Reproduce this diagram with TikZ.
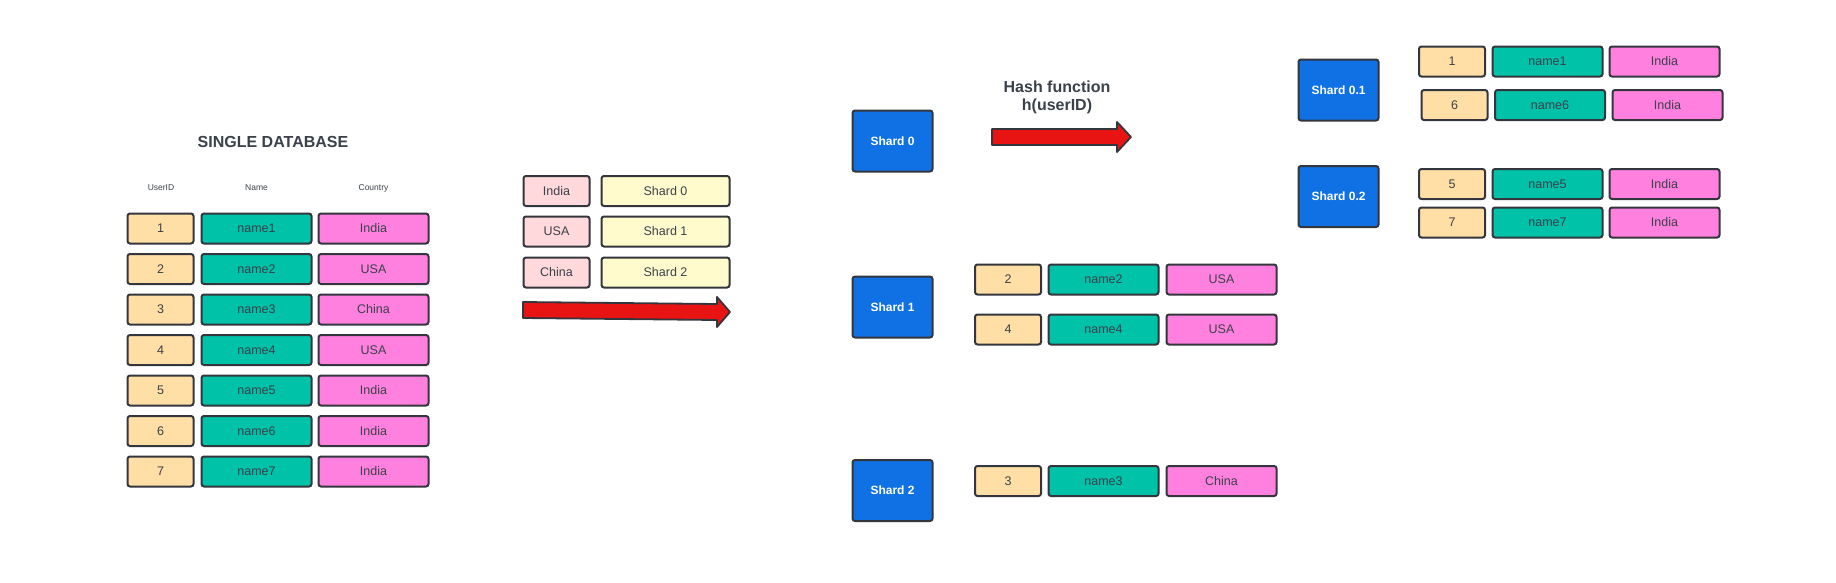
\documentclass[tikz,border=0pt]{standalone}
\usepackage{fontspec}
\setmainfont{Liberation Sans}
\definecolor{linec}{HTML}{33363D}
\definecolor{txt}{HTML}{3A414A}
\definecolor{idc}{HTML}{FFDFA6}
\definecolor{namec}{HTML}{00C2A8}
\definecolor{ctrc}{HTML}{FF80DF}
\definecolor{blu}{HTML}{1071E5}
\definecolor{pinkl}{HTML}{FFD9DB}
\definecolor{yell}{HTML}{FFFBCC}
\definecolor{redar}{HTML}{E81313}
\begin{document}
\begin{tikzpicture}[x=1pt,y=-1pt,
  cell/.style={draw=linec, line width=2pt, rounded corners=2.5pt, inner sep=0pt, outer sep=0pt,
    minimum height=30pt, font=\fontsize{12.5}{15}\selectfont, text=txt},
  idcell/.style={cell, fill=idc, minimum width=66pt},
  namecell/.style={cell, fill=namec, minimum width=110pt},
  ctrcell/.style={cell, fill=ctrc, minimum width=110pt},
  keycell/.style={cell, fill=pinkl, minimum width=66pt},
  valcell/.style={cell, fill=yell, minimum width=128pt},
  shardbox/.style={draw=linec, line width=2pt, rounded corners=2.5pt, fill=blu, inner sep=0pt,
    minimum width=80pt, minimum height=61pt, text=white, font=\bfseries\fontsize{12}{14}\selectfont},
  hdr/.style={text=txt, font=\fontsize{8.5}{10}\selectfont},
  title/.style={text=txt, font=\bfseries\fontsize{16}{19}\selectfont, align=center},
  bigarrow/.style={draw=linec, line width=1.8pt, fill=redar, line join=round}
]
\useasboundingbox (0,0) rectangle (1836,582);

% ---- single database ----
\node[title] (ttl) at (273,142) {SINGLE DATABASE};
\node[hdr] (h1) at (161,188) {UserID};
\node[hdr] (h2) at (256.5,188) {Name};
\node[hdr] (h3) at (373.5,188) {Country};
\foreach \k/\n/\c in {0/1/India,1/2/USA,2/3/China,3/4/USA,4/5/India,5/6/India,6/7/India}{
  \pgfmathsetmacro{\yy}{228.5+40.5*\k}
  \node[idcell] (sid\n) at (160.5,\yy) {\n};
  \node[namecell] (snm\n) at (256.5,\yy) {name\n};
  \node[ctrcell] (sct\n) at (373.5,\yy) {\c};
}

% ---- mapping table ----
\node[keycell] (kIndia) at (556.5,191) {India};
\node[valcell] (vS0) at (665.5,191) {Shard 0};
\node[keycell] (kUSA) at (556.5,231.5) {USA};
\node[valcell] (vS1) at (665.5,231.5) {Shard 1};
\node[keycell] (kChina) at (556.5,272.5) {China};
\node[valcell] (vS2) at (665.5,272.5) {Shard 2};

\draw[bigarrow] (523,302) -- (717,304) -- (717,297) -- (730,312) -- (717,327) -- (717,320) -- (523,318) -- cycle;

% ---- shards ----
\node[shardbox] (sh0) at (892.5,141) {Shard 0};
\node[shardbox] (sh1) at (892.5,307) {Shard 1};
\node[shardbox] (sh2) at (892.5,490.5) {Shard 2};

\node[title, font=\bfseries\fontsize{16}{18}\selectfont] (hash) at (1057,97) {Hash function\\h(userID)};
\draw[bigarrow] (992,129) -- (1117,129) -- (1117,122) -- (1131,137) -- (1117,152) -- (1117,145) -- (992,145) -- cycle;

% shard 1 rows
\node[idcell] (a2) at (1008,279.5) {2};
\node[namecell] (b2) at (1103.5,279.5) {name2};
\node[ctrcell] (c2) at (1221.5,279.5) {USA};
\node[idcell] (a4) at (1008,329.5) {4};
\node[namecell] (b4) at (1103.5,329.5) {name4};
\node[ctrcell] (c4) at (1221.5,329.5) {USA};

% shard 2 row
\node[idcell] (a3) at (1008,481) {3};
\node[namecell] (b3) at (1103.5,481) {name3};
\node[ctrcell] (c3) at (1221.5,481) {China};

% sub-shards
\node[shardbox] (sh01) at (1338.5,90) {Shard 0.1};
\node[shardbox] (sh02) at (1338.5,196.5) {Shard 0.2};

\node[idcell] (a1) at (1452,61.5) {1};
\node[namecell] (b1) at (1547.5,61.5) {name1};
\node[ctrcell] (c1) at (1664.5,61.5) {India};
\node[idcell] (a6) at (1454.5,105) {6};
\node[namecell] (b6) at (1550,105) {name6};
\node[ctrcell] (c6) at (1667.5,105) {India};
\node[idcell] (a5) at (1452,184) {5};
\node[namecell] (b5) at (1547.5,184) {name5};
\node[ctrcell] (c5) at (1664.5,184) {India};
\node[idcell] (a7) at (1452,222.5) {7};
\node[namecell] (b7) at (1547.5,222.5) {name7};
\node[ctrcell] (c7) at (1664.5,222.5) {India};
\end{tikzpicture}
\end{document}
